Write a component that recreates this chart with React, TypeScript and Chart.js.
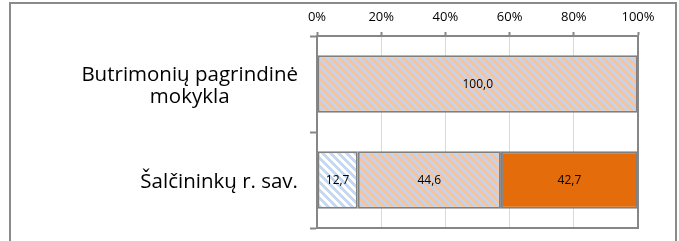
import React, { useEffect, useRef } from 'react';
import { Chart, registerables } from 'chart.js';
Chart.register(...registerables);

const categories: (string | string[])[] = [['Butrimonių pagrindinė', 'mokykla'], 'Šalčininkų r. sav.'];
const seriesBlueHatch: (number | null)[] = [null, 12.7];
const seriesOrangeHatch: (number | null)[] = [100.0, 44.6];
const seriesOrangeSolid: (number | null)[] = [null, 42.7];
const xTickValues = [0, 20, 40, 60, 80, 100];

const GRAY = '#868686';
const FONT = '"Open Sans", sans-serif';

function makeStripe(c1: number[], c2: number[], size: number, ratio: number) {
  const cv = document.createElement('canvas');
  cv.width = size;
  cv.height = size;
  const ctx = cv.getContext('2d')!;
  const img = ctx.createImageData(size, size);
  for (let y = 0; y < size; y++) {
    for (let x = 0; x < size; x++) {
      const k = (((x - y) % size) + size) % size;
      const c = k < size * ratio ? c1 : c2;
      const i = (y * size + x) * 4;
      img.data[i] = c[0];
      img.data[i + 1] = c[1];
      img.data[i + 2] = c[2];
      img.data[i + 3] = 255;
    }
  }
  ctx.putImageData(img, 0, 0);
  const main = document.createElement('canvas').getContext('2d')!;
  return main.createPattern(cv, 'repeat')!;
}

export default function App() {
  const ref = useRef<HTMLCanvasElement>(null);
  useEffect(() => {
    const canvas = ref.current!;
    const orangeBlue = makeStripe([248, 195, 152], [198, 211, 236], 8, 0.5);
    const blueWhite = makeStripe([197, 216, 241], [255, 255, 255], 8, 0.5);

    const frame = {
      id: 'frame',
      afterDatasetsDraw(chart: any) {
        const { ctx, chartArea: a } = chart;
        ctx.save();
        ctx.strokeStyle = GRAY;
        ctx.lineWidth = 2;
        ctx.strokeRect(a.left, a.top, a.right - a.left, a.bottom - a.top);
        ctx.restore();
      },
    };

    const dataLabels = {
      id: 'dataLabels',
      afterDraw(chart: any) {
        const { ctx } = chart;
        ctx.save();
        ctx.font = `12px ${FONT}`;
        ctx.fillStyle = '#000';
        ctx.textAlign = 'center';
        ctx.textBaseline = 'middle';
        chart.data.datasets.forEach((ds: any, di: number) => {
          const meta = chart.getDatasetMeta(di);
          meta.data.forEach((el: any, i: number) => {
            const v = ds.data[i];
            if (v === null || v === undefined) return;
            const x = (el.x + el.base) / 2;
            ctx.fillText(v.toFixed(1).replace('.', ','), x, el.y + 1);
          });
        });
        ctx.restore();
      },
    };

    const catLabels = {
      id: 'catLabels',
      afterDraw(chart: any) {
        const { ctx } = chart;
        const scale = chart.scales.y;
        const rightEdge = scale.right - 19;
        const lh = 22;
        ctx.save();
        ctx.font = `20.5px ${FONT}`;
        ctx.fillStyle = '#000';
        ctx.textAlign = 'center';
        ctx.textBaseline = 'middle';
        categories.forEach((lab, i) => {
          const lines = Array.isArray(lab) ? lab : [lab];
          const widest = Math.max(...lines.map((l) => ctx.measureText(l).width));
          const cx = rightEdge - widest / 2;
          const cy = scale.getPixelForTick(i) + 2;
          const y0 = cy - ((lines.length - 1) * lh) / 2;
          lines.forEach((l, j) => ctx.fillText(l, cx, y0 + j * lh));
        });
        ctx.restore();
      },
    };

    const chart = new Chart(canvas, {
      type: 'bar',
      data: {
        labels: categories,
        datasets: [
          { label: 'A', data: seriesBlueHatch, backgroundColor: blueWhite },
          { label: 'B', data: seriesOrangeHatch, backgroundColor: orangeBlue },
          { label: 'C', data: seriesOrangeSolid, backgroundColor: '#E46C0A' },
        ].map((d) => ({
          ...d,
          borderColor: '#7F7F7F',
          borderWidth: 2,
          borderSkipped: false,
          barPercentage: 0.6,
          categoryPercentage: 1,
        })) as any,
      },
      options: {
        indexAxis: 'y',
        responsive: false,
        animation: false,
        layout: { padding: { left: 11, right: 41, top: 10, bottom: 13 } },
        plugins: { legend: { display: false }, tooltip: { enabled: false } },
        scales: {
          x: {
            type: 'linear',
            position: 'top',
            stacked: true,
            min: 0,
            max: 100,
            afterBuildTicks: (s: any) => {
              s.ticks = xTickValues.map((v) => ({ value: v }));
            },
            afterFit: (s: any) => {
              s.height = 26;
            },
            ticks: {
              color: '#000',
              font: { family: FONT, size: 13 },
              padding: 7,
              maxRotation: 0,
              callback: (v: any) => v + '%',
            },
            grid: {
              color: (c: any) => (c.tick && (c.tick.value === 0 || c.tick.value === 100) ? GRAY : '#D9D9D9'),
              lineWidth: 1,
              tickColor: GRAY,
              tickLength: 4,
              tickWidth: 2,
            },
            border: { color: GRAY, width: 2 },
          },
          y: {
            type: 'category',
            stacked: true,
            afterFit: (s: any) => {
              s.width = 306;
            },
            ticks: { display: false },
            grid: {
              drawOnChartArea: false,
              drawTicks: true,
              tickLength: 7,
              tickColor: GRAY,
              tickWidth: 2,
            },
            border: { color: GRAY, width: 2 },
          },
        },
      } as any,
      plugins: [frame, dataLabels, catLabels],
    });
    return () => chart.destroy();
  }, []);

  return (
    <div style={{ position: 'fixed', left: 0, top: 0, width: 679, height: 241, overflow: 'hidden', background: '#fff' }}>
      <canvas ref={ref} width={679} height={241} style={{ position: 'absolute', left: 0, top: 0 }} />
      <div
        style={{
          position: 'absolute',
          left: 9,
          top: 2,
          width: 668,
          height: 300,
          boxSizing: 'border-box',
          border: '2px solid #8A8A8A',
          pointerEvents: 'none',
        }}
      />
    </div>
  );
}
